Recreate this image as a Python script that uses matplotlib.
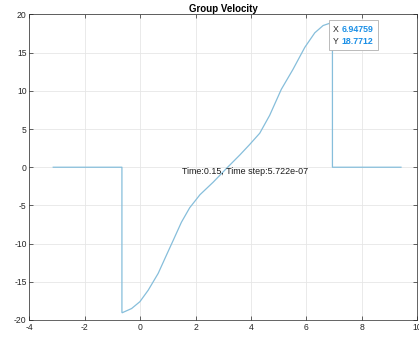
import matplotlib
matplotlib.use("Agg")
from matplotlib import pyplot as plt
from matplotlib.offsetbox import TextArea, HPacker, VPacker, AnnotationBbox

# group velocity curve (domain -pi .. 3pi)
x_left = [-3.1416, -0.66]
x_curve = [-0.66, -0.65, -0.31, -0.01, 0.29, 0.65, 0.95, 1.19, 1.49, 1.79,
           2.16, 2.64, 3.12, 3.6, 3.95, 4.32, 4.68, 5.1, 5.52, 5.95, 6.31,
           6.61, 6.85, 6.9476]
v_curve = [-19.0, -19.05, -18.5, -17.6, -16.1, -13.9, -11.5, -9.6, -7.2,
           -5.3, -3.6, -1.95, -0.15, 1.6, 2.95, 4.45, 6.8, 10.2, 12.8, 15.7,
           17.6, 18.55, 18.85, 18.7712]
x_right = [6.9476, 9.4248]

tip_x = 6.94759
tip_y = 18.7712
info = "Time:0.15, Time step:5.722e-07"

x_ticks = list(range(-4, 11, 2))
y_ticks = list(range(-20, 21, 5))


def main():
    plt.rcParams['font.family'] = ['Liberation Sans', 'DejaVu Sans']
    plt.rcParams['axes.unicode_minus'] = False

    fig = plt.figure(figsize=(4.19, 3.41), dpi=100)
    ax = fig.add_axes([0.0704, 0.0616, 0.9246, 0.896])

    xs = x_left + x_curve + x_right
    ys = [0, 0] + v_curve + [0, 0]
    ax.plot(xs, ys, color='#86bedb', lw=0.9)

    ax.set_xlim(-4, 10)
    ax.set_ylim(-20, 20)
    ax.set_xticks(x_ticks)
    ax.set_yticks(y_ticks)
    ax.grid(True, color='#e6e6e6', lw=0.6)
    ax.set_axisbelow(True)
    ax.tick_params(direction='in', length=3, width=0.5, labelsize=6.2,
                   colors='#262626', top=True, right=True, pad=2)
    for s in ax.spines.values():
        s.set_color('#262626')
        s.set_linewidth(0.5)

    ax.set_title("Group Velocity", fontsize=7, fontweight='bold', pad=2)
    ax.text(3.8, -0.6, info, ha='center', va='center', fontsize=6.4,
            color='#1a1a1a')

    # data tip
    ax.plot([tip_x], [tip_y], 'o', color='black', ms=2)
    dark = dict(color='#262626', fontsize=6.3)
    blue = dict(color='#1a8fe6', fontsize=6.3, fontweight='bold')
    row1 = HPacker(children=[TextArea("X", textprops=dark),
                             TextArea("6.94759", textprops=blue)],
                   pad=0, sep=2)
    row2 = HPacker(children=[TextArea("Y", textprops=dark),
                             TextArea("18.7712", textprops=blue)],
                   pad=0, sep=2)
    box = VPacker(children=[row1, row2], pad=0, sep=2.5, align='left')
    ab = AnnotationBbox(box, (tip_x, tip_y), xybox=(0.5, -0.5),
                        xycoords='data', boxcoords='offset points',
                        box_alignment=(0, 1), pad=0.7, frameon=True,
                        bboxprops=dict(edgecolor='#b0b0b0', lw=0.6,
                                       facecolor='white', boxstyle='square'))
    ax.add_artist(ab)

    fig.savefig("out.png", dpi=100)


if __name__ == "__main__":
    main()
